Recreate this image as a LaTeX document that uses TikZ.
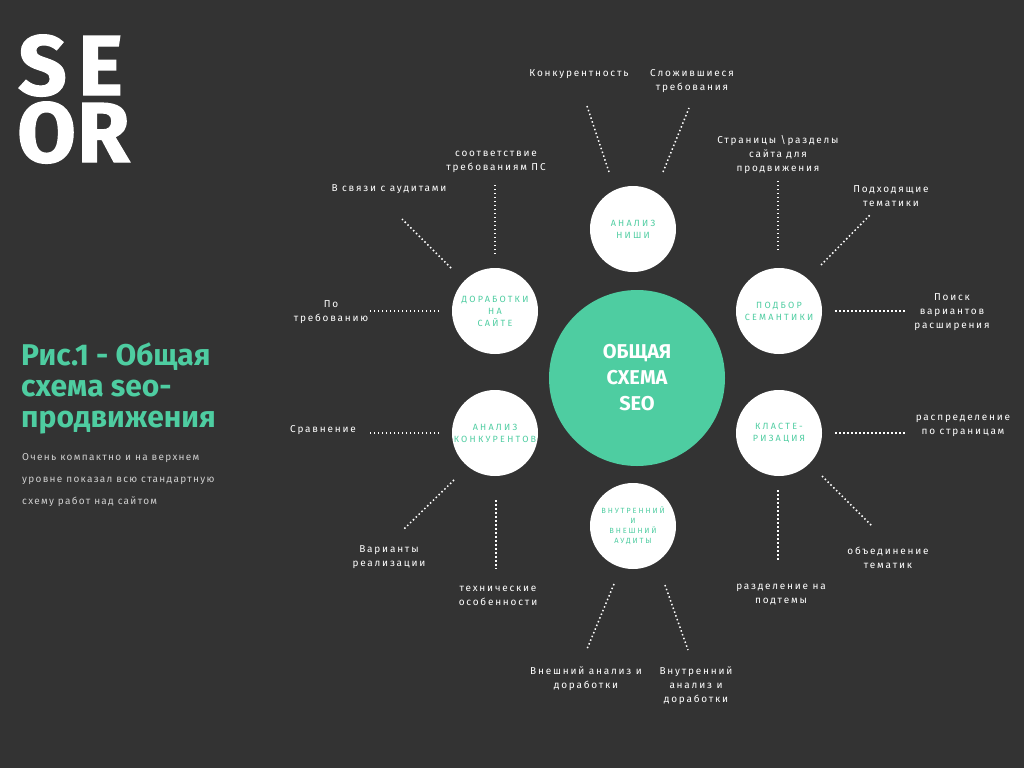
\documentclass[tikz,border=0pt]{standalone}
\usepackage{fontspec}
\setmainfont{Fira Sans}
\newfontfamily\lblfont[LetterSpace=18]{Fira Sans}
\newfontfamily\circfont[LetterSpace=25]{Fira Sans}
\newfontfamily\bodyfont[LetterSpace=13]{Fira Sans}
\newfontfamily\logofont[FakeBold=1.5]{Fira Sans Bold}
\definecolor{bgdark}{HTML}{333333}
\definecolor{seogreen}{HTML}{4ECDA1}
\definecolor{bodygrey}{HTML}{CFCFCF}

\begin{document}
\begin{tikzpicture}[x=1pt, y=-1pt,
  main/.style = {circle, fill=white, minimum size=86pt, inner sep=0pt, align=center,
    text=seogreen, font=\circfont\fontsize{9}{12}\selectfont},
  hub/.style = {circle, fill=seogreen, minimum size=176pt, inner sep=0pt, align=center,
    text=white, font=\fontsize{20}{26}\selectfont\bfseries},
  lbl/.style = {align=center, text=white, inner sep=0pt, font=\lblfont\fontsize{10}{14}\selectfont},
  logo/.style = {anchor=base west, inner sep=0pt, text height=60pt, text depth=0pt, text=white,
    font=\logofont\fontsize{85}{85}\selectfont},
  dotline/.style = {white, line width=1.5pt, dash pattern=on 1.5pt off 2.5pt}]
  \fill[bgdark] (0,0) rectangle (1024,768);
  \useasboundingbox (0,0) rectangle (1024,768);
  % left column
  \node[logo] (se) at (18,95) {\makebox[60pt][l]{S}E};
  \node[logo] (or) at (17,162) {\makebox[60pt][l]{O}R};
  \node[anchor=north west, inner sep=0pt, align=left, text=seogreen, font=\bfseries\fontsize{30}{31}\selectfont] (title) at (21,343)
    {Рис.1 - Общая\\схема seo-\\продвижения};
  \node[anchor=north west, inner sep=0pt, align=left, text=bodygrey, font=\bodyfont\fontsize{10}{22}\selectfont] (desc) at (22,453)
    {Очень компактно и на верхнем\\уровне показал всю стандартную\\схему работ над сайтом};
  % circles
  \node[hub] (hub) at (637,378) {ОБЩАЯ\\СХЕМА\\SEO};
  \node[main] (niche) at (633,229) {АНАЛИЗ\\НИШИ};
  \node[main] (site) at (495,311) {ДОРАБОТКИ\\НА\\САЙТЕ};
  \node[main] (sem) at (779,311) {ПОДБОР\\СЕМАНТИКИ};
  \node[main] (comp) at (495,433) {АНАЛИЗ\\КОНКУРЕНТОВ};
  \node[main] (clust) at (779,433) {КЛАСТЕ-\\РИЗАЦИЯ};
  \node[main, font=\circfont\fontsize{7.5}{10}\selectfont] (audit) at (633,526) {ВНУТРЕННИЙ\\И\\ВНЕШНИЙ\\АУДИТЫ};
  % outer labels
  \node[lbl] (konk) at (579,74) {Конкурентность};
  \node[lbl] (trad) at (692,81) {Сложившиеся\\требования};
  \node[lbl] (pages) at (778,155) {Страницы \textbackslash разделы\\сайта для\\продвижения};
  \node[lbl] (themes) at (891,196) {Подходящие\\тематики};
  \node[lbl] (ext) at (952,312) {Поиск\\вариантов\\расширения};
  \node[lbl] (ps) at (496,162) {соответствие\\требованиям ПС};
  \node[lbl] (aud) at (389,189) {В связи с аудитами};
  \node[lbl] (req) at (331,312) {По\\требованию};
  \node[lbl] (cmp) at (323,430) {Сравнение};
  \node[lbl] (var) at (389,557) {Варианты\\реализации};
  \node[lbl] (tech) at (498,596) {технические\\особенности};
  \node[lbl] (outer) at (586,679) {Внешний анализ и\\доработки};
  \node[lbl] (inner) at (696,686) {Внутренний\\анализ и\\доработки};
  \node[lbl] (split) at (781,595) {разделение на\\подтемы};
  \node[lbl] (merge) at (888,558) {объединение\\тематик};
  \node[lbl] (dist) at (963,426) {распределение\\по страницам};
  % dotted ends
  \coordinate (k1) at (609,172); \coordinate (k2) at (587,106);
  \coordinate (t1) at (663,172); \coordinate (t2) at (689,108);
  \coordinate (p1) at (495,254); \coordinate (p2) at (495,185);
  \coordinate (a1) at (451,268); \coordinate (a2) at (402,219);
  \coordinate (r1) at (439,311); \coordinate (r2) at (369,311);
  \coordinate (g1) at (778,250); \coordinate (g2) at (778,181);
  \coordinate (h1) at (821,265); \coordinate (h2) at (870,215);
  \coordinate (e1) at (835,311); \coordinate (e2) at (905,311);
  \coordinate (c1) at (439,433); \coordinate (c2) at (369,433);
  \coordinate (v1) at (454,480); \coordinate (v2) at (404,529);
  \coordinate (s1) at (496,500); \coordinate (s2) at (496,569);
  \coordinate (d1) at (835,433); \coordinate (d2) at (905,433);
  \coordinate (m1) at (822,476); \coordinate (m2) at (872,526);
  \coordinate (q1) at (778,490); \coordinate (q2) at (778,560);
  \coordinate (o1) at (614,584); \coordinate (o2) at (587,649);
  \coordinate (i1) at (665,585); \coordinate (i2) at (688,650);
  \foreach \a/\b in {k1/k2, t1/t2, p1/p2, a1/a2, r1/r2, g1/g2, h1/h2, e1/e2,
    c1/c2, v1/v2, s1/s2, d1/d2, m1/m2, q1/q2, o1/o2, i1/i2}
    \draw[dotline] (\a) -- (\b);
\end{tikzpicture}
\end{document}
